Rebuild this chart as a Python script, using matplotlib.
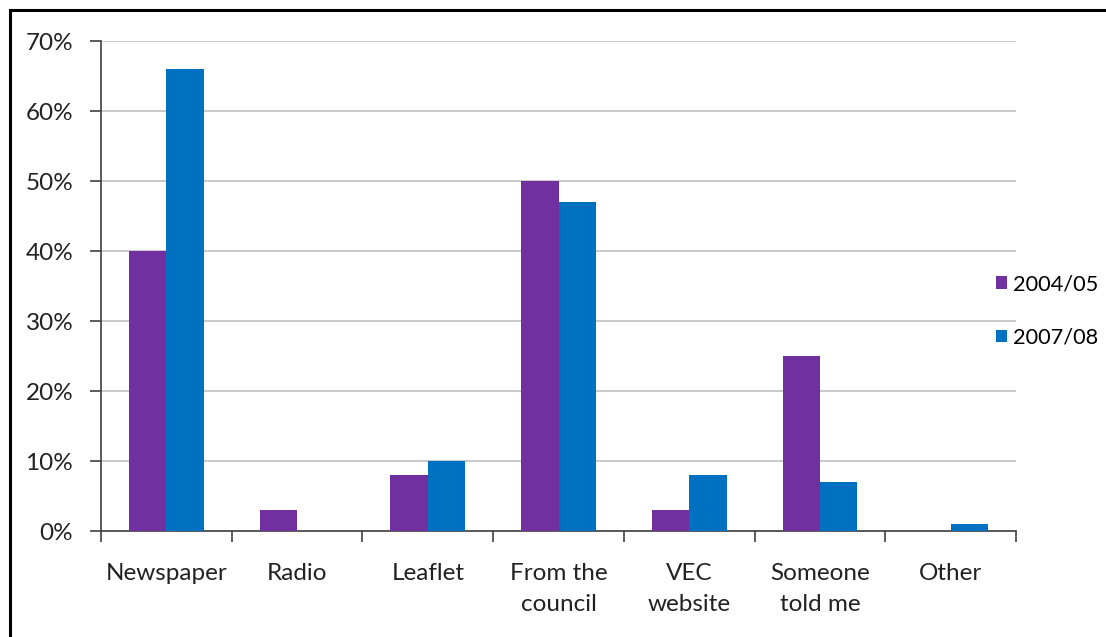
import matplotlib
matplotlib.use("Agg")
import matplotlib.pyplot as plt
import numpy as np
from matplotlib.patches import Rectangle
from matplotlib.ticker import FuncFormatter, MultipleLocator

categories = ["Newspaper", "Radio", "Leaflet", "From the\ncouncil", "VEC\nwebsite", "Someone\ntold me", "Other"]
series_2004 = [40, 3, 8, 50, 3, 25, 0]
series_2007 = [66, 0, 10, 47, 8, 7, 1]
series_names = ["2004/05", "2007/08"]
colors = ["#7030A0", "#0070C0"]

plt.rcParams["font.family"] = ["Lato", "DejaVu Sans"]

W, H = 1106, 637
fig = plt.figure(figsize=(W / 100, H / 100), dpi=100)

# outer frame (left and top edges visible)
fig.patches.append(Rectangle((9.5 / W, -0.1), 1.2, (H - 9.5) / H + 0.1,
                             transform=fig.transFigure, fill=False,
                             edgecolor="black", linewidth=2.2, zorder=10))

ax = fig.add_axes([101 / W, (H - 531) / H, (1016 - 101) / W, (531 - 41) / H])

n = len(categories)
x = np.arange(n)
bw = 1 / 3.5
ax.bar(x - bw / 2, series_2004, width=bw, color=colors[0], label=series_names[0], zorder=3)
ax.bar(x + bw / 2, series_2007, width=bw, color=colors[1], label=series_names[1], zorder=3)

ax.set_xlim(-0.5, n - 0.5)
ax.set_ylim(0, 70)
ax.yaxis.set_major_locator(MultipleLocator(10))
ax.yaxis.set_major_formatter(FuncFormatter(lambda v, p: f"{v:.0f}%"))
ax.grid(axis="y", color="#c0c0c0", linewidth=1.2, zorder=0)

for s in ["top", "right"]:
    ax.spines[s].set_visible(False)
for s in ["left", "bottom"]:
    ax.spines[s].set_color("#404040")
    ax.spines[s].set_linewidth(1.2)

ax.tick_params(axis="y", length=8, width=1.2, color="#404040", labelsize=17.5,
               labelcolor="#222222", pad=12)
ax.set_xticks(np.arange(n + 1) - 0.5)
ax.set_xticklabels([])
ax.tick_params(axis="x", length=8, width=1.2, color="#404040")
ax.set_xticks(x, minor=True)
ax.set_xticklabels(categories, minor=True, fontsize=17.5, color="#222222",
                   linespacing=1.6, va="top")
ax.tick_params(axis="x", which="minor", length=0, pad=23)

fig.legend(handles=ax.patches[:1] + ax.patches[n:n + 1], labels=series_names,
           loc="center left", bbox_to_anchor=(976 / W, 1 - 311 / H), frameon=False,
           fontsize=15.7, handlelength=0.5, handleheight=0.5, handletextpad=0.3,
           labelspacing=1.55)

fig.savefig("out.png", dpi=100)
